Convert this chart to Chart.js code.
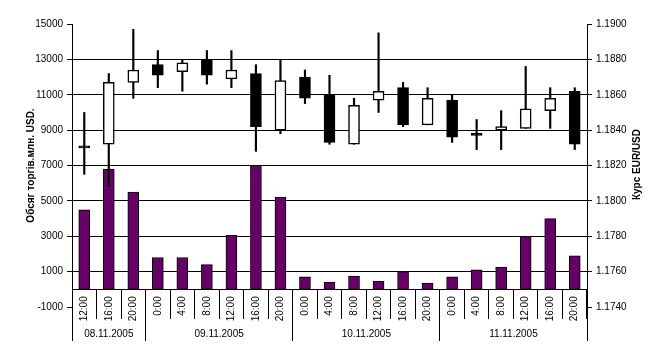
<!DOCTYPE html>
<html><head><meta charset="utf-8">
<script src="https://cdn.jsdelivr.net/npm/chart.js@4/dist/chart.umd.min.js"></script>
<style>html,body{margin:0;padding:0;background:#fff}</style>
</head><body>
<canvas id="c" width="662" height="357"></canvas>
<script>
// ---- data ----
const times = ['12:00','16:00','20:00','0:00','4:00','8:00','12:00','16:00','20:00','0:00','4:00','8:00','12:00','16:00','20:00','0:00','4:00','8:00','12:00','16:00','20:00'];
const dates = ['08.11.2005','09.11.2005','10.11.2005','11.11.2005'];
const groupSizes = [3, 6, 6, 6];
const volume = [4500,6800,5500,1800,1800,1400,3050,7000,5200,700,400,750,450,1000,350,700,1100,1250,3000,4000,1900];
const openP  = [1.1830,1.1832,1.1867,1.1877,1.1873,1.1880,1.1869,1.1872,1.1840,1.1870,1.1860,1.1832,1.1857,1.1864,1.1843,1.1857,1.1837,1.1840,1.1841,1.1851,1.1862];
const closeP = [1.1830,1.1867,1.1874,1.1871,1.1878,1.1871,1.1874,1.1842,1.1868,1.1858,1.1833,1.1854,1.1862,1.1843,1.1858,1.1836,1.1837,1.1842,1.1852,1.1858,1.1832];
const highP  = [1.1850,1.1872,1.1897,1.1885,1.1880,1.1885,1.1885,1.1877,1.1880,1.1874,1.1871,1.1858,1.1895,1.1867,1.1864,1.1860,1.1846,1.1851,1.1876,1.1864,1.1864];
const lowP   = [1.1815,1.1808,1.1858,1.1864,1.1862,1.1866,1.1864,1.1828,1.1838,1.1855,1.1832,1.1832,1.1850,1.1842,1.1843,1.1833,1.1829,1.1829,1.1841,1.1841,1.1829];
const leftTitle = 'Обсяг торгів.млн. USD.';
const rightTitleText = 'Курс EUR/USD';

// ---- derived ----
const bodies = openP.map((o, i) => [o, closeP[i]]);
const wicks = lowP.map((l, i) => [l, highP[i]]);
const bodyColors = openP.map((o, i) => closeP[i] > o ? '#ffffff' : '#000000');
const boundaries = [-0.5];
const centers = [];
groupSizes.forEach((n) => {
  const start = boundaries[boundaries.length - 1];
  centers.push(start + n / 2);
  boundaries.push(start + n);
});

const FONT = "'Liberation Sans', Arial, sans-serif";
Chart.defaults.font.family = FONT;
Chart.defaults.font.size = 10;
Chart.defaults.color = '#000';

const rightTitle = {
  id: 'rightTitle',
  afterDraw(chart) {
    const s = chart.scales.y2, ctx = chart.ctx;
    ctx.save();
    ctx.font = 'bold 10px ' + FONT;
    ctx.fillStyle = '#000';
    ctx.textAlign = 'center';
    ctx.textBaseline = 'middle';
    ctx.translate(s.right - 25, (s.top + s.bottom) / 2 - 1);
    ctx.rotate(-Math.PI / 2);
    ctx.fillText(rightTitleText, 0, 0);
    ctx.restore();
  }
};

new Chart(document.getElementById('c'), {
  type: 'bar',
  data: {
    labels: times,
    datasets: [
      { label: 'body', data: bodies, yAxisID: 'y2', xAxisID: 'x', grouped: false,
        backgroundColor: bodyColors, borderColor: '#000', borderWidth: 1.5, borderSkipped: false,
        barThickness: 11, minBarLength: 2 },
      { label: 'wick', data: wicks, yAxisID: 'y2', xAxisID: 'x', grouped: false,
        backgroundColor: '#000', borderWidth: 0, barThickness: 1.5 },
      { label: 'volume', data: volume, yAxisID: 'y', xAxisID: 'x', grouped: false,
        backgroundColor: '#660066', borderColor: '#000', borderWidth: 1, borderSkipped: false,
        barThickness: 11 }
    ]
  },
  options: {
    responsive: false,
    animation: false,
    layout: { padding: { top: 24, bottom: 50, left: 0, right: 0 } },
    plugins: { legend: { display: false }, tooltip: { enabled: false } },
    scales: {
      x: {
        type: 'category',
        position: { y: 0 },
        offset: true,
        grid: { offset: true, drawOnChartArea: false, tickLength: 29, color: '#000', lineWidth: 1 },
        border: { display: true, color: '#000', width: 1 },
        ticks: { autoSkip: false, maxRotation: 90, minRotation: 90, padding: -22, color: '#000', font: { size: 10 } }
      },
      x2: {
        type: 'linear',
        position: { y: 0 },
        offset: false,
        min: -0.5, max: boundaries[boundaries.length - 1],
        afterBuildTicks: (scale) => { scale.ticks = boundaries.concat(centers).sort((a, b) => a - b).map(v => ({ value: v })); },
        grid: {
          offset: false,
          drawOnChartArea: false, tickLength: 52, lineWidth: 1,
          color: (ctx) => boundaries.includes(ctx.tick && ctx.tick.value) ? '#000' : 'rgba(0,0,0,0)',
          tickColor: (ctx) => boundaries.includes(ctx.tick && ctx.tick.value) ? '#000' : 'rgba(0,0,0,0)'
        },
        border: { display: false },
        ticks: {
          autoSkip: false, maxRotation: 0, minRotation: 0, padding: -13, color: '#000',
          callback: (v) => { const k = centers.indexOf(v); return k >= 0 ? dates[k] : ''; }
        }
      },
      y: {
        position: 'left',
        min: -1000, max: 15000,
        ticks: { stepSize: 2000, padding: 4, color: '#000', font: { size: 10 }, callback: (v) => String(v) },
        grid: {
          tickLength: 5, lineWidth: 1,
          color: (ctx) => (ctx.tick && (ctx.tick.value === -1000 || ctx.tick.value === 15000)) ? 'rgba(0,0,0,0)' : '#000',
          tickColor: '#000'
        },
        border: { display: true, color: '#000', width: 1 },
        title: { display: true, text: leftTitle, font: { size: 10, weight: 'bold' }, padding: { top: 25, bottom: 0 }, color: '#000' },
        afterFit: (s) => { s.width = 72; }
      },
      y2: {
        position: 'right',
        min: 1.174, max: 1.19,
        ticks: { stepSize: 0.002, padding: 4, color: '#000', font: { size: 10 }, callback: (v) => Number(v).toFixed(4) },
        grid: { drawOnChartArea: false, tickLength: 5, color: '#000', lineWidth: 1 },
        border: { display: true, color: '#000', width: 1 },
        afterFit: (s) => { s.width = 75; }
      }
    }
  },
  plugins: [rightTitle]
});
</script>
</body></html>
